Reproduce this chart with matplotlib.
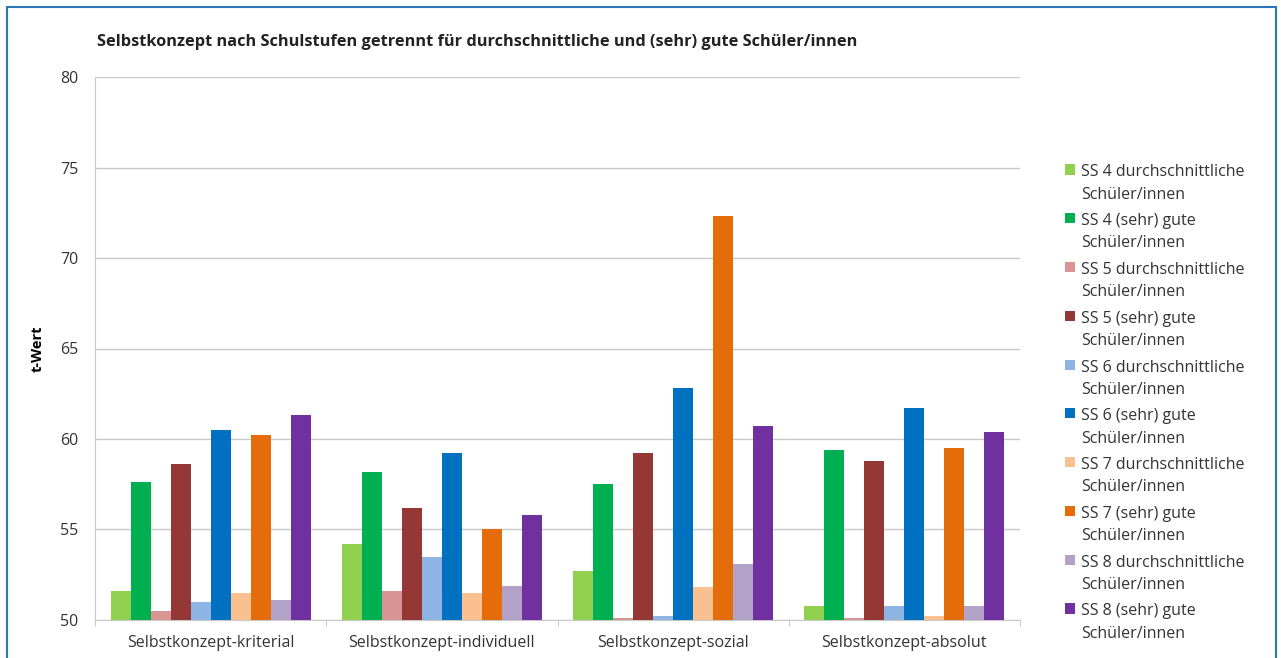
import matplotlib.pyplot as plt
from matplotlib.patches import Rectangle
import numpy as np

plt.rcParams['font.family'] = ['Open Sans', 'DejaVu Sans']

categories = ["Selbstkonzept-kriterial", "Selbstkonzept-individuell",
              "Selbstkonzept-sozial", "Selbstkonzept-absolut"]

series_labels = [
    "SS 4 durchschnittliche\nSchüler/innen",
    "SS 4 (sehr) gute\nSchüler/innen",
    "SS 5 durchschnittliche\nSchüler/innen",
    "SS 5 (sehr) gute\nSchüler/innen",
    "SS 6 durchschnittliche\nSchüler/innen",
    "SS 6 (sehr) gute\nSchüler/innen",
    "SS 7 durchschnittliche\nSchüler/innen",
    "SS 7 (sehr) gute\nSchüler/innen",
    "SS 8 durchschnittliche\nSchüler/innen",
    "SS 8 (sehr) gute\nSchüler/innen",
]

ss4_avg  = [51.6, 54.2, 52.7, 50.8]
ss4_good = [57.6, 58.2, 57.5, 59.4]
ss5_avg  = [50.5, 51.6, 50.1, 50.1]
ss5_good = [58.6, 56.2, 59.2, 58.8]
ss6_avg  = [51.0, 53.5, 50.2, 50.8]
ss6_good = [60.5, 59.2, 62.8, 61.7]
ss7_avg  = [51.5, 51.5, 51.8, 50.2]
ss7_good = [60.2, 55.0, 72.3, 59.5]
ss8_avg  = [51.1, 51.9, 53.1, 50.8]
ss8_good = [61.3, 55.8, 60.7, 60.4]

series = [ss4_avg, ss4_good, ss5_avg, ss5_good, ss6_avg,
          ss6_good, ss7_avg, ss7_good, ss8_avg, ss8_good]

colors = ["#92D050", "#00B050", "#D99594", "#953735", "#8DB4E2",
          "#0070C0", "#FAC090", "#E46C0A", "#B3A2C7", "#7030A0"]

baseline = 50

fig = plt.figure(figsize=(12.81, 6.58), dpi=100)
ax = fig.add_axes([95/1281, 38/658, 925/1281, 543/658])

n = len(series)
width = 0.865 / n
x = np.arange(len(categories))
for i, (vals, col, lab) in enumerate(zip(series, colors, series_labels)):
    offs = (i - (n - 1) / 2) * width
    heights = [v - baseline for v in vals]
    ax.bar(x + offs, heights, width=width, bottom=baseline, color=col,
           label=lab, zorder=3)

ax.set_xlim(-0.5, len(categories) - 0.5)
ax.set_ylim(50, 80)
ax.set_yticks(range(50, 81, 5))
ax.set_xticks(x)
ax.set_xticklabels(categories, fontsize=11.5, color="#333333")
ax.tick_params(axis='x', length=0, pad=11)
ax.tick_params(axis='y', length=0, pad=12, labelsize=11.5, labelcolor="#333333")
ax.set_xticks(np.arange(-0.5, len(categories)), minor=True)
ax.tick_params(axis='x', which='minor', length=4, color="#bfbfbf")

ax.grid(axis='y', color="#c8c8c8", linewidth=1, zorder=0)
for s in ['top', 'right']:
    ax.spines[s].set_visible(False)
ax.spines['left'].set_color("#c8c8c8")
ax.spines['bottom'].set_color("#c8c8c8")

ax.set_ylabel("t-Wert", fontsize=10.5, fontweight='bold', labelpad=11)

fig.text(97/1281, 1 - 42/658, "Selbstkonzept nach Schulstufen getrennt für durchschnittliche und (sehr) gute Schüler/innen",
         fontsize=11.8, fontweight='bold', color="#222222", va='center', ha='left')

leg = ax.legend(loc='upper left', bbox_to_anchor=(1051/1281, 1 - 150/658),
                bbox_transform=fig.transFigure, frameon=False, fontsize=11.5,
                handlelength=0.6, handleheight=0.6, handletextpad=0.4,
                labelspacing=0.66, labelcolor="#333333")
for t in leg.get_texts():
    t.set_linespacing(1.52)
# put each colour square next to the first line of its label
for column in leg._legend_handle_box.get_children():
    for item in column.get_children():
        item.align = 'top'

# blue frame around the figure
fig.patches.append(Rectangle((7/1281, -0.05), (1276 - 7)/1281, 1 - 7/658 + 0.05,
                             transform=fig.transFigure, fill=False,
                             edgecolor="#2E75B6", linewidth=1.5, clip_on=False))

fig.savefig("out.png", dpi=100)
